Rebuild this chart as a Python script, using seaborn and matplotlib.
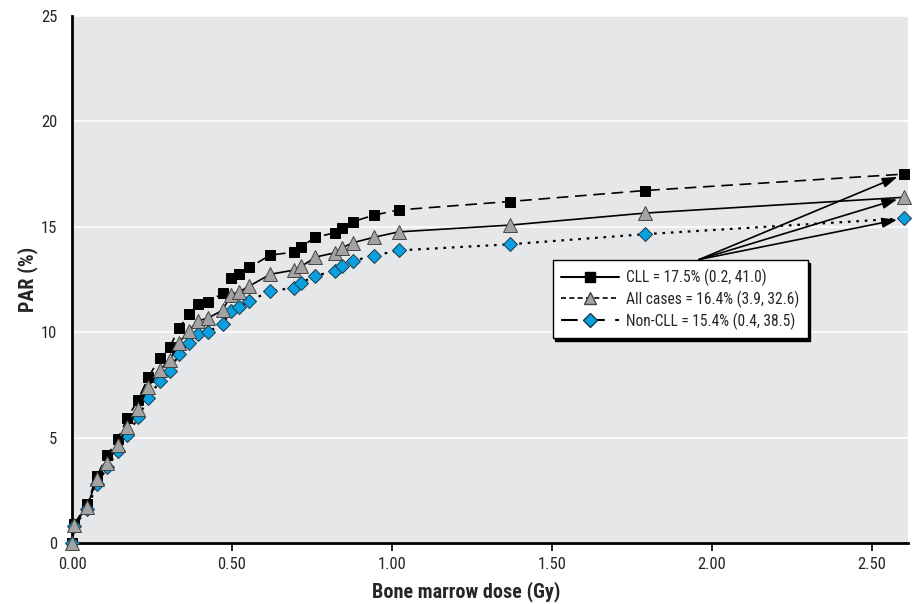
#!/usr/bin/env python3
"""
PAR (%) vs bone marrow dose for CLL, all cases and non-CLL
"""

import matplotlib
matplotlib.use('Agg')
import matplotlib.pyplot as plt
from matplotlib import font_manager
from matplotlib.lines import Line2D
import pandas as pd
import seaborn as sns

# dose points shared by the three series (Gy)
dose = [0.0, 0.007, 0.047, 0.078, 0.11, 0.143, 0.173, 0.207, 0.238, 0.274,
        0.305, 0.334, 0.365, 0.394, 0.424, 0.471, 0.497, 0.523, 0.554, 0.62,
        0.695, 0.717, 0.76, 0.822, 0.843, 0.879, 0.943, 1.021, 1.368, 1.79, 2.6]

par_cll = [0.0, 0.9, 1.84, 3.18, 4.17, 4.92, 5.94, 6.8, 7.86, 8.76,
           9.28, 10.18, 10.86, 11.32, 11.45, 11.84, 12.56, 12.78, 13.07, 13.66,
           13.8, 14.06, 14.5, 14.72, 14.95, 15.25, 15.55, 15.8, 16.2, 16.72, 17.5]

par_all = [0.0, 0.85, 1.72, 3.05, 3.8, 4.63, 5.52, 6.36, 7.4, 8.2,
           8.68, 9.5, 10.07, 10.55, 10.66, 11.05, 11.78, 11.92, 12.19, 12.75,
           12.95, 13.12, 13.56, 13.77, 14.0, 14.25, 14.5, 14.76, 15.08, 15.65, 16.4]

par_non = [0.0, 0.81, 1.61, 2.78, 3.6, 4.35, 5.12, 5.97, 6.87, 7.68,
           8.16, 8.96, 9.51, 9.93, 10.02, 10.37, 11.02, 11.21, 11.48, 11.95,
           12.11, 12.35, 12.68, 12.9, 13.15, 13.39, 13.63, 13.88, 14.17, 14.65, 15.4]

labels = ['CLL = 17.5% (0.2, 41.0)',
          'All cases = 16.4% (3.9, 32.6)',
          'Non-CLL = 15.4% (0.4, 38.5)']

x_ticks = [0.0, 0.5, 1.0, 1.5, 2.0, 2.5]
y_ticks = [0, 5, 10, 15, 20, 25]

BLUE = '#0aa0e0'
GRAY = '#a3a3a3'

sns.set_style('darkgrid', {'axes.facecolor': '#e6e7e9', 'grid.color': 'white',
                           'axes.edgecolor': 'black'})

# the original uses a condensed face; take one if the system has it
fonts = font_manager.fontManager.ttflist
names = {f.name for f in fonts}
narrow = [n for n in ['Liberation Sans Narrow', 'DejaVu Sans Condensed',
                      'Roboto Condensed', 'Open Sans Condensed'] if n in names]
stretch = 'normal'
if narrow:
    family = narrow[0]
    scale = 1.0
elif any(f.name == 'DejaVu Sans' and f.stretch in ('condensed', 'semi-condensed')
         for f in fonts):
    family = 'DejaVu Sans'
    stretch = 'condensed'
    scale = 0.95
else:
    family = 'Liberation Sans'
    scale = 0.88
plt.rcParams['font.family'] = [family, 'DejaVu Sans']
plt.rcParams['font.stretch'] = stretch

df = pd.DataFrame({'dose': dose, 'cll': par_cll, 'all': par_all, 'non': par_non})

fig = plt.figure(figsize=(9.13, 6.04), dpi=100)
ax = fig.add_axes([0.0789, 0.101, 0.9156, 0.8725])

# Non-CLL: dotted, blue diamonds
sns.lineplot(data=df, x='dose', y='non', ax=ax, sort=False, estimator=None,
             color='black', linestyle=(0, (1.2, 2.6)), linewidth=1.6,
             marker='D', markersize=7.5, markerfacecolor=BLUE,
             markeredgecolor='#1a3a4a', markeredgewidth=0.7, clip_on=False, zorder=3)
# All cases: solid, gray triangles
sns.lineplot(data=df, x='dose', y='all', ax=ax, sort=False, estimator=None,
             color='black', linestyle='-', linewidth=1.2,
             marker='^', markersize=10, markerfacecolor=GRAY,
             markeredgecolor='#444444', markeredgewidth=0.7, clip_on=False, zorder=4)
# CLL: dashed, black squares
sns.lineplot(data=df, x='dose', y='cll', ax=ax, sort=False, estimator=None,
             color='black', linestyle=(0, (7, 4)), linewidth=1.2,
             marker='s', markersize=7.5, markerfacecolor='black',
             markeredgecolor='black', markeredgewidth=0.7, clip_on=False, zorder=2)

# arrows from the legend to the end points
start = (1.96, 13.45)
for yend in [par_cll[-1], par_all[-1], par_non[-1]]:
    ax.annotate('', xy=(dose[-1], yend), xytext=start,
                arrowprops=dict(arrowstyle='-|>,head_length=0.9,head_width=0.3',
                                color='black', lw=1.2, shrinkA=0, shrinkB=5),
                zorder=6)

ax.set_xlim(0, 2.6125)
ax.set_ylim(0, 25)
ax.set_xticks(x_ticks)
ax.set_xticklabels([f'{t:.2f}' for t in x_ticks])
ax.set_yticks(y_ticks)
ax.set_yticklabels([str(t) for t in y_ticks])
ax.grid(axis='x', visible=False)
ax.grid(axis='y', color='white', linewidth=1.2)
ax.tick_params(axis='x', bottom=True, direction='out', length=6, width=1.2,
               color='black', labelsize=12 * scale, pad=4)
ax.tick_params(axis='y', left=False, labelsize=12 * scale, pad=7)

for side in ['top', 'right']:
    ax.spines[side].set_visible(False)
for side in ['left', 'bottom']:
    ax.spines[side].set_linewidth(2)
    ax.spines[side].set_color('black')

ax.set_xlabel('Bone marrow dose (Gy)', fontsize=14.5 * scale, fontweight='bold')
ax.xaxis.set_label_coords(0.471, -0.072)
ax.set_ylabel('PAR (%)', fontsize=14.5 * scale, fontweight='bold', labelpad=2)

handles = [
    Line2D([], [], color='black', linestyle='-', linewidth=1.5, marker='s',
           markersize=7.5, markerfacecolor='black', markeredgecolor='black'),
    Line2D([], [], color='black', linestyle=(0, (3, 2)), linewidth=1.2, marker='^',
           markersize=9, markerfacecolor=GRAY, markeredgecolor='#444444'),
    Line2D([], [], color='black', linestyle=(0, (8, 5)), linewidth=1.5, marker='D',
           markersize=7.5, markerfacecolor=BLUE, markeredgecolor='#1a3a4a'),
]
leg = ax.legend(handles, labels, loc='upper left', bbox_to_anchor=(0.575, 0.537),
                borderaxespad=0, fontsize=11.2 * scale, frameon=True, fancybox=False,
                framealpha=1, edgecolor='black', facecolor='white',
                handlelength=3.7, handletextpad=0.45, labelspacing=0.3, borderpad=0.55,
                shadow={'color': 'black', 'alpha': 1})
leg.get_frame().set_linewidth(1)
leg.set_zorder(10)

fig.savefig('out.png', dpi=100)
